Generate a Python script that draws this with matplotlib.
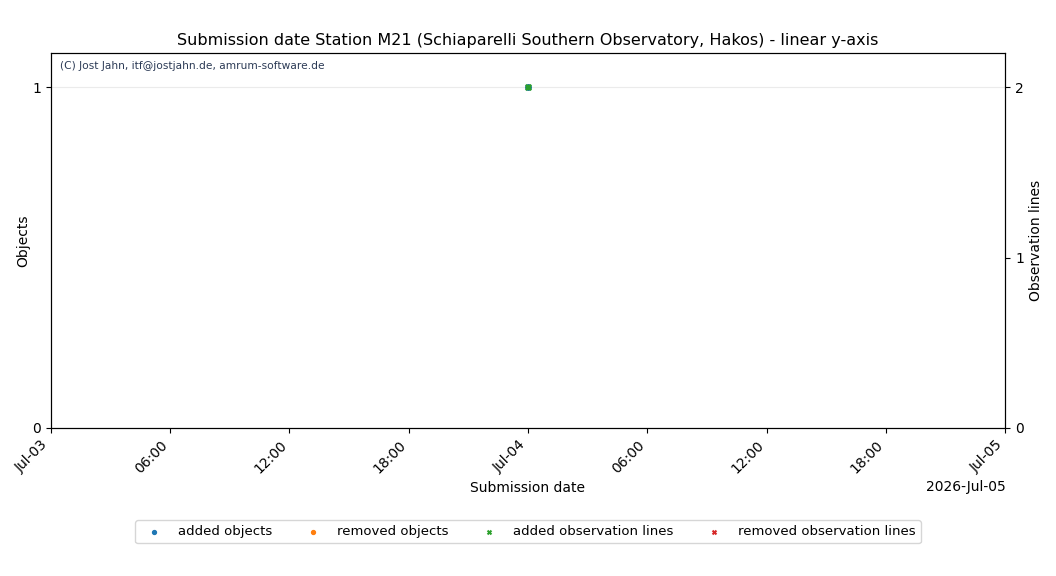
import numpy as np
import pandas as pd
import matplotlib
matplotlib.use("Agg")
import matplotlib.pyplot as plt
import matplotlib.dates as mdates

# data
dates = pd.to_datetime(["2026-07-04 00:00"])
added_objects = [1]
removed_objects = []
added_lines = [2]
removed_lines = []

x_start = pd.Timestamp("2026-07-03")
x_end = pd.Timestamp("2026-07-05")

fig, ax = plt.subplots(figsize=(10.56, 5.76), dpi=100)
fig.subplots_adjust(left=0.048, right=0.952, top=0.908, bottom=0.257)
ax2 = ax.twinx()

ax.scatter(dates, added_objects, s=16, color="tab:blue", label="added objects", zorder=3)
ax.scatter([], [], s=16, color="tab:orange", label="removed objects")
ax2.scatter(dates, added_lines, s=16, marker="x", color="tab:green", label="added observation lines", zorder=3)
ax2.scatter([], [], s=16, marker="x", color="tab:red", label="removed observation lines")
ax2.scatter(dates, added_lines, s=10, color="tab:green", zorder=4)

ax.set_ylim(0, 1.1)
ax.set_yticks([0, 1])
ax2.set_ylim(0, 2.2)
ax2.set_yticks([0, 1, 2])
ax.grid(axis="y", color="#ebebeb", linewidth=0.8)
ax.set_axisbelow(True)

ax.set_xlim(x_start, x_end)
ax.xaxis.set_major_locator(mdates.HourLocator(byhour=[0, 6, 12, 18]))
fmt = mdates.ConciseDateFormatter(ax.xaxis.get_major_locator(),
                                  formats=['%Y', '%b', '%b-%d', '%H:%M', '%H:%M', '%S.%f'],
                                  offset_formats=['', '%Y', '%Y-%b', '%Y-%b-%d', '%Y-%b-%d', '%Y-%b-%d %H:%M'])
ax.xaxis.set_major_formatter(fmt)
plt.setp(ax.get_xticklabels(), rotation=45, ha="right")

ax.set_xlabel("Submission date")
ax.set_ylabel("Objects", labelpad=1)
ax2.set_ylabel("Observation lines")
ax.set_title("Submission date Station M21 (Schiaparelli Southern Observatory, Hakos) - linear y-axis",
             fontsize=11.5, pad=6)

ax.text(0.01, 0.978, "(C) Jost Jahn, itf@jostjahn.de, amrum-software.de", transform=ax.transAxes,
        fontsize=7.65, color="#2b3a55", va="top", ha="left")

h1, l1 = ax.get_legend_handles_labels()
h2, l2 = ax2.get_legend_handles_labels()
fig.legend(h1 + h2[:2], l1 + l2[:2], loc="lower center", ncol=4, bbox_to_anchor=(0.5, 0.045),
           markerscale=0.7, fontsize=9.5, columnspacing=2.1)

fig.savefig("out.png", dpi=100)
